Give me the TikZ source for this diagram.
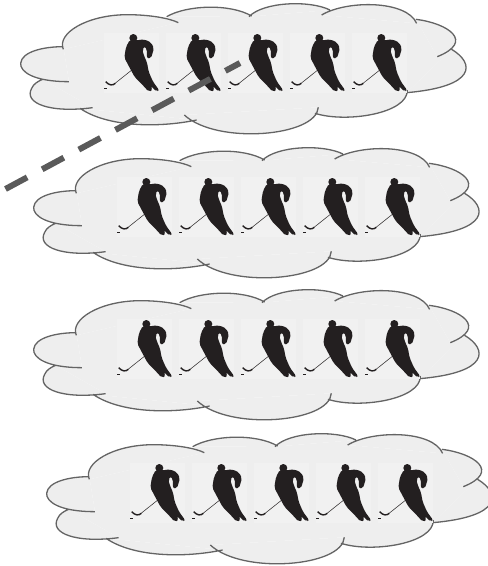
\documentclass[tikz,border=0pt]{standalone}
\usepackage{tikz}
\definecolor{cCloud}{RGB}{238,238,238}
\definecolor{cEdge}{RGB}{100,100,100}
\definecolor{cTile}{RGB}{241,241,241}
\definecolor{cInk}{RGB}{35,31,32}
\definecolor{cDash}{RGB}{90,90,90}

\tikzset{
    cloudline/.style={fill=cCloud, draw=cEdge, line width=1.3pt},
    skater/.pic={
        \fill[cTile] (12,25) rectangle (177,205);
        \fill[cInk] (100,39) circle (12);
        \fill[cInk, rounded corners=2pt] (90,44) -- (78,66) -- (73,98) -- (90,130) -- (104,156)
            -- (126,178) -- (146,200) -- (157,197) -- (153,183) -- (170,200) -- (178,196)
            -- (159,170) -- (146,140) -- (141,112) -- (132,92) -- (127,74) -- (134,64) -- (141,74)
            -- (141,100) -- (153,100) -- (162,70) -- (153,52) -- (132,43) -- (110,46) -- cycle;
        \draw[cInk, line width=0.5pt] (98,133) -- (44,176);
        \draw[cInk, line width=1.4pt] (46,175) .. controls (38,182) and (28,182) .. (17,170);
        \fill[cInk] (13,189) rectangle (20,192);
    },
    hockeycloud/.pic={
        \begin{scope}[x=0.3333pt, y=-0.3333pt]
        \fill[cCloud] (190,148) -- (535,68) -- (500,50) -- (755,48) -- (747,50) -- (990,30) -- (965,45)
            -- (1250,70) -- (1248,58) -- (1312,170) -- (1355,148) -- (1220,278) -- (945,340)
            -- (955,322) -- (553,345) -- (590,360) -- (240,325) -- (278,323) -- (128,238)
            -- (207,245) -- (190,140) -- cycle;
        \path[cloudline]
            (190,148) .. controls (170,100) and (260,45) .. (380,44) .. controls (450,44) and (510,55) .. (535,68)
            (500,50) .. controls (560,15) and (690,10) .. (755,48)
            (747,50) .. controls (790,5) and (930,0) .. (990,30)
            (965,45) .. controls (1040,0) and (1220,0) .. (1250,70)
            (1248,58) .. controls (1345,70) and (1425,125) .. (1312,170)
            (1355,148) .. controls (1425,190) and (1430,260) .. (1220,278)
            (1222,270) .. controls (1225,340) and (1040,370) .. (945,340)
            (955,322) .. controls (950,410) and (650,435) .. (553,345)
            (590,360) .. controls (470,385) and (320,380) .. (240,325)
            (278,323) .. controls (150,340) and (70,310) .. (95,265) .. controls (100,252) and (115,243) .. (128,238)
            (207,245) .. controls (100,245) and (60,215) .. (62,190) .. controls (65,155) and (130,140) .. (190,140);
        % players sit in a row inside the cloud
        \foreach \i in {0,...,4} {
            \pic at ({300+186*\i}, 75) {skater};
        }
        \end{scope}
    }
}

\begin{document}
\begin{tikzpicture}[x=1pt, y=-1pt]
    \useasboundingbox (0,0) rectangle (488,566);

    % Cloud rows
    \pic at (0,0)    {hockeycloud};
    \pic at (13,144) {hockeycloud};
    \pic at (13,286) {hockeycloud};
    \pic at (26,430) {hockeycloud};

    % Sight line
    \coordinate (lineStart) at (5.5,189);
    \coordinate (lineEnd) at (240,63);
    \draw[cDash, line width=6pt, dash pattern=on 24.6pt off 17pt] (lineStart) -- (lineEnd);
\end{tikzpicture}
\end{document}
